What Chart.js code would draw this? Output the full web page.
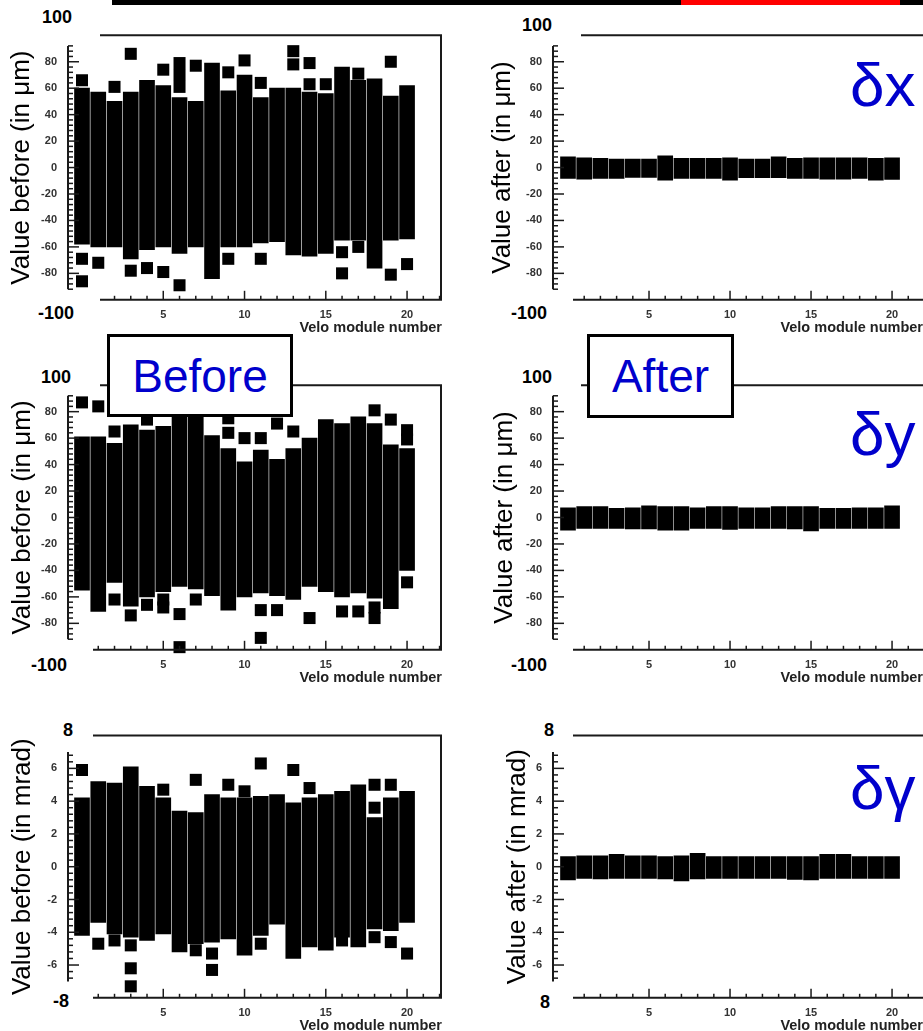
<!DOCTYPE html>
<html>
<head>
<meta charset="utf-8">
<script src="https://cdn.jsdelivr.net/npm/chart.js@4/dist/chart.umd.min.js"></script>
<style>
  html, body { margin: 0; padding: 0; background: #fff; }
  body { width: 923px; height: 1031px; position: relative; overflow: hidden; font-family: 'Liberation Sans', Arial, sans-serif; }
  canvas { position: absolute; }
  .strip { position: absolute; top: 0; height: 5px; z-index: 6; }
  .big { position: absolute; font-weight: bold; font-size: 18px; line-height: 1; transform: translate(-50%, -50%); color: #000; }
  .box { position: absolute; box-sizing: border-box; border: 3px solid #000; background: #fff; color: #0000cc;
         font-size: 46px; display: flex; align-items: center; justify-content: center; z-index: 5; }
  .delta { position: absolute; left: 850px; color: #0000cc; font-size: 62px; line-height: 1; z-index: 5; }
</style>
</head>
<body>

<div class="strip" style="left:112px;width:569px;background:#000"></div>
<div class="strip" style="left:681px;width:219px;background:#ff0000"></div>
<div class="strip" style="left:900px;width:23px;background:#000"></div>

<div class="big" style="left:57px;top:17px">100</div>
<div class="big" style="left:56px;top:313px">-100</div>
<div class="big" style="left:56px;top:377px">100</div>
<div class="big" style="left:49px;top:665px">-100</div>
<div class="big" style="left:68px;top:730px">8</div>
<div class="big" style="left:61px;top:1001px">-8</div>
<div class="big" style="left:537px;top:25px">100</div>
<div class="big" style="left:529px;top:313px">-100</div>
<div class="big" style="left:537px;top:377px">100</div>
<div class="big" style="left:529px;top:665px">-100</div>
<div class="big" style="left:549px;top:730px">8</div>
<div class="big" style="left:545px;top:1002px">8</div>

<div class="box" style="left:107px;top:334px;width:186px;height:83px">Before</div>
<div class="box" style="left:587px;top:334px;width:147px;height:84px">After</div>

<div class="delta" style="top:54px">δx</div>
<div class="delta" style="top:403px">δy</div>
<div class="delta" style="top:757px">δγ</div>

<script>
const modules = [0, 1, 2, 3, 4, 5, 6, 7, 8, 9, 10, 11, 12, 13, 14, 15, 16, 17, 18, 19, 20];
const xTickLabels = [5, 10, 15, 20];

// before alignment: dense band per module (low/high) + isolated points [module, value]
const dxBeforeHigh = [60, 57, 50, 57, 66, 62, 53, 50, 79, 58, 70, 53, 60, 60, 57, 56, 76, 66, 67, 54, 62];
const dxBeforeLow = [-58, -60, -60, -69, -62, -60, -65, -60, -84, -60, -60, -57, -56, -66, -67, -65, -55, -55, -76, -55, -54];
const dxBeforeOut = [[0, 66], [0, -69], [0, -86], [1, -72], [2, 61], [3, 86], [3, -78], [4, -76], [5, 74], [5, -79],
  [6, 79], [6, 70], [6, 61], [6, -89], [7, 77], [9, 72], [9, -69], [10, 81], [11, 64], [11, -69], [13, 88], [13, 78],
  [14, 79], [14, 63], [15, 63], [16, -64], [16, -80], [17, 71], [17, -60], [19, 80], [19, -81], [20, -73]];

const dyBeforeHigh = [61, 61, 56, 70, 66, 69, 77, 77, 62, 52, 42, 51, 44, 52, 60, 74, 71, 76, 71, 55, 52];
const dyBeforeLow = [-55, -71, -49, -67, -60, -56, -52, -54, -59, -70, -60, -57, -59, -62, -52, -56, -60, -57, -61, -69, -40];
const dyBeforeOut = [[0, 87], [1, 84], [2, 65], [2, -62], [3, -74], [4, 74], [4, -66], [5, -62], [5, -68], [6, -73],
  [6, -98], [7, -62], [9, 75], [9, 64], [10, 60], [11, 60], [11, -70], [11, -91], [12, 71], [12, -70], [13, 65],
  [14, -76], [16, -71], [17, -71], [18, 81], [18, -68], [18, -76], [19, 74], [20, 66], [20, 59], [20, -49]];

const dgBeforeHigh = [4.2, 5.2, 5.1, 6.1, 4.9, 4.2, 3.4, 3.3, 4.4, 4.2, 4.2, 4.3, 4.4, 3.9, 4.2, 4.4, 4.6, 5.0, 3.0, 4.2, 4.6];
const dgBeforeLow = [-4.2, -3.4, -4.1, -4.3, -4.5, -4.1, -5.2, -4.7, -4.6, -4.4, -5.4, -4.2, -3.5, -5.6, -4.9, -5.1, -4.3, -4.9, -3.8, -3.9, -3.4];
const dgBeforeOut = [[0, 5.9], [1, -4.7], [2, -4.5], [3, -4.8], [3, -6.2], [3, -7.3], [5, 4.7], [7, 5.3], [7, -5.1],
  [8, -5.3], [8, -6.3], [9, 5.0], [10, 4.6], [11, 6.3], [11, -4.7], [13, 5.9], [14, 4.8], [16, -4.5], [18, 5.0],
  [18, 3.6], [18, -4.3], [19, 5.0], [19, -4.6], [20, -5.3]];

// after alignment
const dxAfterHigh = [8.2, 7.4, 7.0, 6.4, 6.4, 6.4, 8.9, 6.9, 6.9, 6.9, 7.4, 6.4, 6.4, 8.2, 6.9, 7.4, 7.4, 7.4, 7.4, 6.9, 7.4];
const dxAfterLow = [-8.2, -8.7, -8.2, -8.2, -7.4, -7.4, -9.5, -8.2, -8.2, -8.2, -9.5, -7.7, -7.7, -7.7, -8.2, -8.2, -8.7, -8.7, -8.2, -9.5, -9.0];
const dyAfterHigh = [7.4, 8.2, 8.2, 6.9, 7.4, 8.9, 8.2, 8.2, 7.4, 8.2, 8.2, 7.4, 7.4, 8.2, 8.2, 8.2, 6.9, 6.9, 7.4, 7.4, 8.9];
const dyAfterLow = [-9.5, -8.2, -8.2, -8.2, -8.7, -8.7, -9.5, -9.5, -8.2, -8.2, -9.0, -8.2, -8.2, -8.2, -8.7, -10.2, -8.2, -8.2, -8.2, -8.2, -8.2];
const dgAfterHigh = [0.61, 0.67, 0.67, 0.75, 0.67, 0.67, 0.61, 0.67, 0.81, 0.61, 0.61, 0.61, 0.61, 0.61, 0.61, 0.61, 0.75, 0.75, 0.61, 0.61, 0.61];
const dgAfterLow = [-0.81, -0.71, -0.75, -0.71, -0.71, -0.71, -0.75, -0.87, -0.75, -0.71, -0.71, -0.71, -0.71, -0.71, -0.78, -0.81, -0.71, -0.71, -0.71, -0.71, -0.71];

const FONT = "'Liberation Sans', Arial, sans-serif";
const X_AXIS_H = 37;

// ROOT-like axes: inward ticks, frame lines (positions in canvas pixels)
const frameTicks = {
    id: 'frame',
    afterDatasetsDraw(chart, args, o) {
        const { ctx, chartArea: a, scales: { x, y } } = chart;
        const line = (x1, y1, x2, y2) => { ctx.beginPath(); ctx.moveTo(x1, y1); ctx.lineTo(x2, y2); ctx.stroke(); };
        ctx.save();
        ctx.strokeStyle = '#1a1a1a';
        ctx.lineWidth = 2;
        line(o.lineStart, a.top, a.right, a.top);
        line(o.axisStart, a.bottom, a.right, a.bottom);
        if (o.rightFrame) line(a.right - 1, a.top, a.right - 1, a.bottom);
        line(a.left, y.getPixelForValue(o.yLim), a.left, y.getPixelForValue(-o.yLim));

        ctx.lineWidth = 1.5;
        y.ticks.forEach(t => {
            if (Math.abs(t.value) > o.yLim + 1e-9) return;
            const py = y.getPixelForValue(t.value);
            const major = Math.abs(t.value / o.yMajor - Math.round(t.value / o.yMajor)) < 1e-6;
            line(a.left, py, a.left + (major ? 11 : 5), py);
        });
        x.ticks.forEach(t => {
            const px = x.getPixelForValue(t.value);
            if (px < o.axisStart + 2) return;
            const major = t.value % 5 === 0;
            line(px, a.bottom, px, a.bottom - (major ? 9 : 4));
        });
        ctx.restore();
    }
};

function makePanel(p) {
    const cv = document.createElement('canvas');
    cv.width = p.w;
    cv.height = p.h;
    cv.style.left = p.cl + 'px';
    cv.style.top = p.ct + 'px';
    document.body.appendChild(cv);

    const yTicks = [];
    const n = Math.round(p.yMax / p.yStep);
    for (let i = -n; i <= n; i++) yTicks.push(+(i * p.yStep).toFixed(4));

    const isMajorLabel = v => Math.abs(v) < p.yMax - 1e-9 &&
        Math.abs(v / p.yMajor - Math.round(v / p.yMajor)) < 1e-6;

    return new Chart(cv, {
        type: 'scatter',
        data: {
            datasets: [
                {
                    type: 'bar',
                    data: modules.map((m, i) => ({ x: m, y: [p.low[i], p.high[i]] })),
                    backgroundColor: '#000',
                    borderWidth: 0,
                    barThickness: p.barW,
                    grouped: false
                },
                {
                    data: p.out.map(o => ({ x: o[0], y: o[1] })),
                    pointStyle: 'rect',
                    pointRadius: 8.5,
                    backgroundColor: '#000',
                    borderWidth: 0,
                    clip: false
                }
            ]
        },
        options: {
            responsive: false,
            animation: false,
            layout: {
                padding: { left: 0, top: p.T - p.ct, right: p.cl + p.w - p.R, bottom: p.ct + p.h - p.B - X_AXIS_H }
            },
            plugins: {
                legend: { display: false },
                tooltip: { enabled: false },
                frame: {
                    lineStart: p.lineStart - p.cl, axisStart: p.axisStart - p.cl,
                    rightFrame: p.rightFrame, yLim: p.yLim, yMajor: p.yMajor
                }
            },
            scales: {
                x: {
                    type: 'linear',
                    min: p.xMin,
                    max: p.xMax,
                    offset: false,
                    grid: { display: false },
                    border: { display: false },
                    afterBuildTicks: s => {
                        const t = [];
                        for (let v = Math.ceil(p.xMin); v <= Math.floor(p.xMax); v++) t.push({ value: v });
                        s.ticks = t;
                    },
                    ticks: {
                        autoSkip: false, maxRotation: 0, padding: 1, color: '#333',
                        font: { family: FONT, size: 11, weight: 'bold' },
                        callback: v => xTickLabels.includes(v) ? String(v) : ''
                    },
                    title: {
                        display: true, text: 'Velo module number', align: 'end', color: '#222', padding: 0,
                        font: { family: FONT, size: 14.5, weight: 'bold' }
                    },
                    afterFit: s => { s.height = X_AXIS_H; }
                },
                y: {
                    type: 'linear',
                    min: -p.yMax,
                    max: p.yMax,
                    grid: { display: false },
                    border: { display: false },
                    afterBuildTicks: s => { s.ticks = yTicks.map(v => ({ value: v })); },
                    ticks: {
                        autoSkip: false, padding: 3, color: '#333',
                        font: { family: FONT, size: 11, weight: 'bold' },
                        callback: v => isMajorLabel(v) ? String(Math.round(v)) : ''
                    },
                    title: {
                        display: true, text: p.yTitle, color: '#000',
                        padding: { top: p.titlePad, bottom: 0 },
                        font: { family: FONT, size: 26 }
                    },
                    afterFit: s => { s.width = p.L - p.cl; }
                }
            }
        },
        plugins: [frameTicks]
    });
}

const left = { cl: 0, w: 460, h: 345, L: 68, R: 442, xMin: -0.862, xMax: 22.15, rightFrame: true, barW: 15 };
const right = { cl: 460, w: 463, h: 345, L: 553, R: 923, xMin: -0.926, xMax: 21.91, rightFrame: false, barW: 15, out: [] };
const um = { yMax: 100, yStep: 4, yMajor: 20, yLim: 92 };
const mrad = { yMax: 8, yStep: 0.4, yMajor: 2, yLim: 7 };

makePanel({ ...left, ...um, ct: 0, T: 35.3, B: 299.8, lineStart: 100, axisStart: 100, titlePad: 6.4,
    yTitle: 'Value before (in μm)', low: dxBeforeLow, high: dxBeforeHigh, out: dxBeforeOut });
makePanel({ ...left, ...um, ct: 345, T: 385.2, B: 649.8, lineStart: 100, axisStart: 93, titlePad: 7.4,
    yTitle: 'Value before (in μm)', low: dyBeforeLow, high: dyBeforeHigh, out: dyBeforeOut });
makePanel({ ...left, ...mrad, ct: 690, T: 735.6, B: 997.8, lineStart: 93, axisStart: 93, titlePad: 7.4,
    yTitle: 'Value before (in mrad)', low: dgBeforeLow, high: dgBeforeHigh, out: dgBeforeOut });

makePanel({ ...right, ...um, ct: 0, T: 35.3, B: 299.8, lineStart: 581, axisStart: 573, titlePad: 27.4,
    yTitle: 'Value after (in μm)', low: dxAfterLow, high: dxAfterHigh });
makePanel({ ...right, ...um, ct: 345, T: 385.2, B: 649.8, lineStart: 581, axisStart: 573, titlePad: 29.4,
    yTitle: 'Value after (in μm)', low: dyAfterLow, high: dyAfterHigh });
makePanel({ ...right, ...mrad, ct: 690, T: 735.6, B: 997.8, lineStart: 573, axisStart: 573, titlePad: 42.4,
    yTitle: 'Value after (in mrad)', low: dgAfterLow, high: dgAfterHigh });
</script>
</body>
</html>
